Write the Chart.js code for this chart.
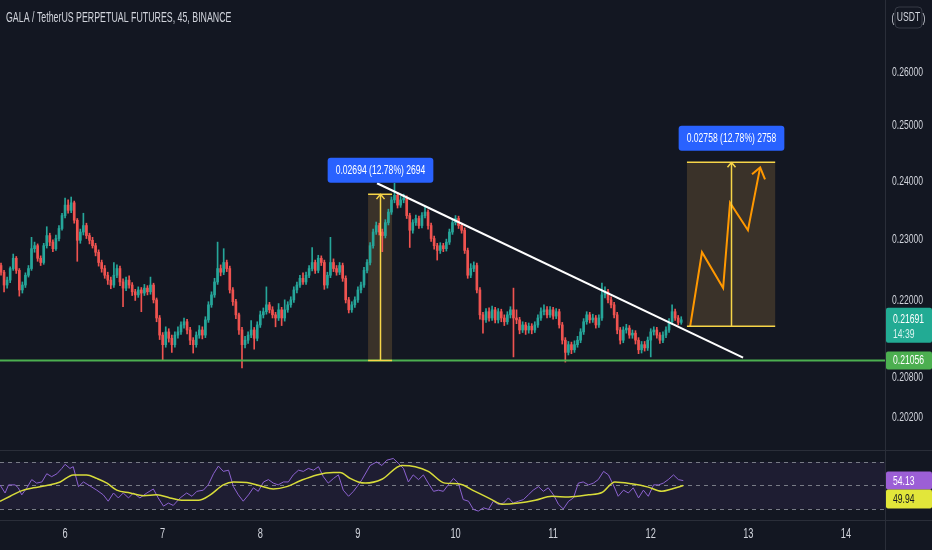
<!DOCTYPE html>
<html>
<head>
<meta charset="utf-8">
<title>GALA / TetherUS PERPETUAL FUTURES, 45, BINANCE</title>
<script src="https://cdn.jsdelivr.net/npm/chart.js@4.4.1/dist/chart.umd.min.js"></script>
<style>
  html, body { margin: 0; padding: 0; background: #131722; }
  #wrap { width: 932px; height: 550px; }
</style>
</head>
<body>
<div id="wrap"><canvas id="chart" width="932" height="550"></canvas></div>
<script>
// hours are counted from day 5, 00:00 ; one bar = 45 minutes
const title = 'GALA / TetherUS PERPETUAL FUTURES, 45, BINANCE';
const tickDays = [6, 7, 8, 9, 10, 11, 12, 13, 14];
const priceTicks = [0.202, 0.208, 0.22, 0.23, 0.24, 0.25, 0.26];
const firstBarHour = 7.5;
const barHours = 0.75;
const firstOpen = 0.2250;

const closes = [
  .2257,.2246,.2225,.2233,.2252,.2269,.2249,.2217,.2225,.2241,
  .2252,.2285,.2290,.2269,.2262,.2290,.2307,.2296,.2285,.2302,
  .2319,.2341,.2359,.2350,.2363,.2333,.2299,.2313,.2324,.2307,
  .2299,.2290,.2279,.2262,.2252,.2241,.2233,.2225,.2241,.2252,
  .2230,.2220,.2233,.2225,.2214,.2209,.2217,.2212,.2220,.2214,
  .2225,.2201,.2172,.2145,.2130,.2150,.2140,.2130,.2145,.2150,
  .2161,.2166,.2153,.2137,.2130,.2145,.2153,.2145,.2169,.2193,
  .2209,.2230,.2252,.2246,.2262,.2252,.2217,.2198,.2177,.2153,
  .2130,.2137,.2145,.2153,.2140,.2161,.2177,.2182,.2193,.2185,
  .2177,.2172,.2185,.2172,.2185,.2193,.2201,.2217,.2225,.2236,
  .2230,.2241,.2252,.2262,.2249,.2269,.2262,.2225,.2241,.2262,
  .2252,.2246,.2257,.2236,.2201,.2185,.2193,.2201,.2217,.2225,
  .2249,.2262,.2290,.2313,.2324,.2313,.2307,.2329,.2347,.2368,
  .2376,.2359,.2368,.2371,.2341,.2316,.2329,.2336,.2324,.2341,
  .2347,.2324,.2302,.2290,.2282,.2290,.2285,.2296,.2313,.2329,
  .2336,.2324,.2316,.2282,.2241,.2252,.2257,.2217,.2177,.2169,
  .2182,.2172,.2185,.2169,.2182,.2172,.2166,.2177,.2185,.2172,
  .2169,.2153,.2161,.2153,.2159,.2153,.2161,.2172,.2182,.2185,
  .2177,.2185,.2175,.2182,.2161,.2137,.2118,.2130,.2122,.2130,
  .2137,.2150,.2166,.2177,.2169,.2172,.2161,.2172,.2209,.2214,
  .2201,.2193,.2177,.2153,.2137,.2153,.2156,.2145,.2148,.2137,
  .2122,.2130,.2125,.2137,.2150,.2153,.2145,.2137,.2145,.2153,
  .2166,.2182,.2172,.2165,.21691
];
const highs = [
  .2262,.2261,.2249,.2238,.2255,.2276,.2272,.2252,.2230,.2245,
  .2257,.2304,.2296,.2293,.2273,.2294,.2322,.2311,.2300,.2308,
  .2324,.2345,.2371,.2368,.2373,.2366,.2336,.2318,.2345,.2328,
  .2311,.2304,.2294,.2283,.2266,.2257,.2246,.2238,.2262,.2258,
  .2256,.2235,.2238,.2240,.2229,.2218,.2222,.2221,.2226,.2224,
  .2238,.2228,.2204,.2176,.2149,.2158,.2155,.2145,.2150,.2158,
  .2166,.2172,.2170,.2157,.2141,.2150,.2160,.2158,.2174,.2198,
  .2214,.2236,.2296,.2258,.2285,.2266,.2256,.2221,.2202,.2180,
  .2157,.2143,.2150,.2168,.2157,.2166,.2183,.2188,.2222,.2197,
  .2190,.2181,.2195,.2189,.2201,.2198,.2206,.2222,.2230,.2241,
  .2245,.2246,.2257,.2287,.2266,.2274,.2273,.2266,.2246,.2304,
  .2268,.2257,.2262,.2261,.2240,.2205,.2198,.2206,.2222,.2230,
  .2254,.2267,.2295,.2318,.2330,.2328,.2318,.2334,.2352,.2373,
  .2397,.2381,.2374,.2378,.2375,.2345,.2334,.2342,.2340,.2346,
  .2355,.2351,.2328,.2306,.2294,.2295,.2294,.2301,.2318,.2334,
  .2341,.2340,.2328,.2320,.2286,.2260,.2263,.2261,.2221,.2181,
  .2187,.2188,.2191,.2189,.2187,.2186,.2177,.2182,.2190,.2220,
  .2185,.2173,.2166,.2165,.2164,.2163,.2166,.2177,.2188,.2193,
  .2190,.2190,.2189,.2187,.2186,.2165,.2141,.2135,.2134,.2136,
  .2143,.2155,.2171,.2182,.2181,.2178,.2176,.2177,.2228,.2222,
  .2218,.2206,.2197,.2181,.2157,.2158,.2162,.2160,.2153,.2152,
  .2141,.2135,.2135,.2142,.2155,.2158,.2157,.2149,.2150,.2158,
  .2171,.2193,.2186,.2176,.2174
];
const lows = [
  .2245,.2241,.2214,.2220,.2229,.2249,.2244,.2207,.2212,.2221,
  .2238,.2249,.2279,.2264,.2257,.2259,.2286,.2290,.2280,.2282,
  .2298,.2316,.2337,.2345,.2346,.2328,.2264,.2294,.2308,.2302,
  .2293,.2286,.2273,.2256,.2246,.2236,.2226,.2219,.2221,.2237,
  .2224,.2190,.2216,.2220,.2208,.2200,.2205,.2182,.2208,.2209,
  .2210,.2196,.2166,.2138,.2106,.2126,.2134,.2118,.2126,.2140,
  .2146,.2156,.2147,.2130,.2117,.2126,.2140,.2139,.2141,.2165,
  .2189,.2205,.2226,.2240,.2242,.2247,.2212,.2192,.2171,.2146,
  .2094,.2125,.2132,.2141,.2123,.2136,.2157,.2172,.2178,.2180,
  .2172,.2158,.2168,.2160,.2167,.2181,.2189,.2197,.2212,.2221,
  .2226,.2226,.2237,.2248,.2244,.2245,.2257,.2218,.2220,.2237,
  .2247,.2241,.2242,.2231,.2196,.2180,.2181,.2189,.2197,.2212,
  .2221,.2245,.2258,.2286,.2309,.2308,.2280,.2303,.2325,.2343,
  .2363,.2354,.2355,.2363,.2336,.2287,.2311,.2324,.2319,.2320,
  .2337,.2318,.2297,.2284,.2266,.2277,.2280,.2281,.2292,.2309,
  .2325,.2319,.2311,.2277,.2236,.2237,.2247,.2212,.2170,.2148,
  .2165,.2167,.2168,.2164,.2164,.2166,.2160,.2162,.2172,.2111,
  .2163,.2147,.2149,.2146,.2148,.2147,.2149,.2157,.2168,.2177,
  .2172,.2173,.2170,.2171,.2156,.2131,.2103,.2114,.2116,.2118,
  .2126,.2133,.2146,.2162,.2164,.2165,.2156,.2157,.2168,.2204,
  .2196,.2188,.2172,.2147,.2131,.2133,.2148,.2140,.2140,.2131,
  .2116,.2117,.2120,.2121,.2111,.2145,.2140,.2132,.2133,.2141,
  .2149,.2162,.2168,.2161,.2162
];

const rsiHours = [
  8.0, 9.25, 10.1, 11.7, 12.5, 13.35, 14.6, 15.8, 17.0, 18.3,
  19.5, 20.7, 22.0, 23.2, 24.0, 25.2, 26.0, 27.3, 28.5, 29.7,
  31.8, 33.4, 34.6, 35.9, 37.1, 38.3, 39.6, 40.8, 42.4, 44.1,
  45.7, 46.9, 48.2, 49.4, 50.6, 52.3, 53.9, 55.2, 56.4, 58.0,
  59.2, 60.5, 61.7, 62.9, 64.2, 65.4, 66.6, 67.8, 69.1, 70.3,
  71.5, 72.8, 74.0, 75.2, 76.4, 77.7, 78.9, 80.1, 81.4, 82.6,
  83.8, 85.1, 86.3, 87.5, 88.7, 90.0, 91.2, 92.4, 93.7, 94.9,
  96.0, 97.0, 99.0, 100.6, 101.9, 103.1, 104.7, 106.0, 107.2, 108.4,
  109.6, 110.9, 112.1, 113.3, 114.6, 115.8, 117.0, 118.2, 119.5, 120.7,
  121.9, 123.2, 124.4, 125.6, 126.9, 128.1, 129.3, 130.5, 131.8, 133.0,
  134.2, 135.5, 136.7, 137.9, 139.1, 140.4, 141.6, 142.8, 144.1, 145.3,
  146.5, 147.8, 149.0, 150.2, 151.4, 152.7, 153.9, 155.1, 156.4, 157.6,
  158.8, 160.0, 161.3, 162.5, 163.7, 165.0, 166.2, 167.4, 168.7, 169.9,
  171.1, 172.3, 173.6, 174.8, 176.0
];
const rsiValues = [
  50.5, 43.6, 50.5, 50.5, 48, 42, 48, 55, 52, 53,
  60, 57.5, 60, 64.5, 68, 64.5, 66, 49, 53, 50.5,
  46, 42, 36.6, 43.6, 39.4, 43.6, 39.4, 43.6, 39.4, 43.6,
  47, 39.4, 32.4, 35, 33, 39.4, 43.6, 40.8, 45, 46,
  50.5, 60, 66.5, 62, 63, 49, 42, 36.6, 42, 48,
  45, 53, 55, 52, 50.5, 53, 53, 59, 63, 62,
  64.5, 63, 66, 57.5, 52, 56, 59, 46, 40.8, 45,
  50, 55, 67, 70, 67, 71.5, 73, 68.7, 64.5, 53,
  59, 55, 59, 52, 45, 46, 45, 50.5, 56, 52,
  38, 36.6, 29.6, 28.2, 31, 29.6, 36.6, 34, 35, 39.4,
  35, 36.6, 38, 42, 46, 49, 45, 48, 42, 34,
  30, 36.6, 39.4, 52, 53, 50.5, 52, 55, 62, 59,
  50.5, 40.8, 46, 43.6, 48, 39.4, 46, 40.8, 50.5, 50.5,
  52, 55, 59, 55, 54.13
];
const maHours = [
  8.0, 10.5, 12.9, 16.2, 19.5, 22.8, 26.0, 29.3, 31.8, 34.3,
  36.7, 40.0, 43.3, 46.5, 49.8, 53.1, 56.8, 59.7, 62.9, 65.4,
  68.7, 71.9, 75.2, 78.5, 81.8, 85.9, 90.0, 91.6, 94.1, 96.1,
  97.8, 101.9, 106.8, 110.1, 113.3, 117.4, 120.7, 124.8, 128.9, 131.4,
  135.5, 139.6, 143.7, 147.8, 152.7, 156.0, 159.2, 163.3, 167.4, 170.7,
  173.2, 176.0
];
const maValues = [
  36.6, 40.8, 45, 48, 50, 53, 59, 59, 56, 52,
  46, 43.6, 41.3, 42, 39.4, 37.4, 37.4, 42, 50.5, 53,
  52.5, 49.7, 47, 49, 54, 59, 61, 61, 56, 53,
  52, 55.3, 67, 66, 62, 52, 51.4, 45, 38, 34,
  35, 37.4, 40.8, 40.2, 42, 44, 53, 51.4, 48.6, 45,
  47, 49.94
];
const rsiLevels = [70, 50, 30];

// drawings (hour, price)
const supportPrice = 0.21056;
const trendHours = [100.7, 190.7];
const trendPrices = [0.2397, 0.2110];
const measures = [
  { from: 98.5, to: 104.4, low: 0.21056, high: 0.2378, text: '0.02694 (12.78%) 2694' },
  { from: 176.9, to: 198.6, low: 0.2159, high: 0.2434, text: '0.02758 (12.78%) 2758' }
];
const pathHours = [177.7, 180.6, 185.8, 187.5, 191.9, 194.9];
const pathPrices = [0.2159, 0.2279, 0.2220, 0.2363, 0.2316, 0.2425];
const headHours = [192.9, 194.9, 196.1];
const headPrices = [0.2413, 0.2425, 0.2404];

const lastTime = '14:39';

const FONT = '"Liberation Sans", Arial, sans-serif';
const SQUEEZE = 0.66;   // the screenshot text is horizontally condensed
const UP = '#26a69a', DOWN = '#ef5350';

const opens = closes.map((c, i) => i === 0 ? firstOpen : closes[i - 1]);
const barHour = i => firstBarHour + i * barHours;
const colors = closes.map((c, i) => c >= opens[i] ? UP : DOWN);

function narrowText(ctx, text, x, y, color, align, size, squeeze) {
  ctx.save();
  ctx.font = (size || 13) + 'px ' + FONT;
  ctx.fillStyle = color;
  ctx.textAlign = align || 'left';
  ctx.textBaseline = 'middle';
  ctx.translate(x, y);
  ctx.scale(squeeze || SQUEEZE, 1);
  ctx.fillText(text, 0, 0);
  ctx.restore();
}

function narrowWidth(ctx, text, size) {
  ctx.save();
  ctx.font = (size || 13) + 'px ' + FONT;
  const w = ctx.measureText(text).width * SQUEEZE;
  ctx.restore();
  return w;
}

function labelBox(ctx, x, y, w, h, fill, lines) {
  ctx.fillStyle = fill;
  ctx.beginPath();
  ctx.roundRect(x, y, w, h, 2);
  ctx.fill();
  lines.forEach(l => narrowText(ctx, l.text, x + 7, l.y, l.color));
}

const overlay = {
  id: 'overlay',
  beforeDraw(chart) {
    const ctx = chart.ctx;
    ctx.save();
    ctx.fillStyle = '#131722';
    ctx.fillRect(0, 0, chart.width, chart.height);
    ctx.restore();
  },
  beforeDatasetsDraw(chart) {
    const { ctx, chartArea: a, scales: { x, y, yr } } = chart;
    ctx.save();
    const t = yr.getPixelForValue(70), b = yr.getPixelForValue(30);
    ctx.fillStyle = 'rgba(126, 87, 194, 0.1)';
    ctx.fillRect(a.left, t, a.right - a.left, b - t);
    ctx.strokeStyle = '#787b86';
    ctx.lineWidth = 1;
    ctx.setLineDash([4, 4]);
    rsiLevels.forEach(v => {
      const py = Math.round(yr.getPixelForValue(v)) + 0.5;
      ctx.beginPath(); ctx.moveTo(a.left, py); ctx.lineTo(a.right, py); ctx.stroke();
    });
    ctx.setLineDash([]);
    measures.forEach(m => {
      const x1 = x.getPixelForValue(m.from), x2 = x.getPixelForValue(m.to);
      const y1 = y.getPixelForValue(m.high), y2 = y.getPixelForValue(m.low);
      ctx.fillStyle = 'rgba(255, 183, 77, 0.17)';
      ctx.fillRect(x1, y1, x2 - x1, y2 - y1);
    });
    ctx.restore();
  },
  afterDatasetsDraw(chart) {
    const { ctx, chartArea: a, scales: { x, y } } = chart;
    ctx.save();
    // support line
    const sy = y.getPixelForValue(supportPrice);
    ctx.strokeStyle = '#4caf50';
    ctx.lineWidth = 2;
    ctx.beginPath(); ctx.moveTo(a.left, sy); ctx.lineTo(a.right, sy); ctx.stroke();

    measures.forEach(m => {
      const x1 = x.getPixelForValue(m.from), x2 = x.getPixelForValue(m.to);
      const y1 = y.getPixelForValue(m.high), y2 = y.getPixelForValue(m.low);
      const cx = Math.round((x1 + x2) / 2) + 0.5;
      ctx.strokeStyle = '#f7d548';
      ctx.lineWidth = 1.5;
      ctx.beginPath();
      ctx.moveTo(x1, y1); ctx.lineTo(x2, y1);
      ctx.moveTo(x1, y2); ctx.lineTo(x2, y2);
      ctx.moveTo(cx, y2); ctx.lineTo(cx, y1);
      ctx.moveTo(cx - 4, y1 + 5); ctx.lineTo(cx, y1); ctx.lineTo(cx + 4, y1 + 5);
      ctx.stroke();
      // blue label
      const w = narrowWidth(ctx, m.text) + 16, h = 25;
      const lx = cx - w / 2, ly = y1 - 24 - h / 2;
      ctx.fillStyle = '#2962ff';
      ctx.beginPath(); ctx.roundRect(lx, ly, w, h, 3); ctx.fill();
      narrowText(ctx, m.text, cx, ly + h / 2 + 0.5, '#ffffff', 'center');
    });
    ctx.restore();
  },
  afterDraw(chart) {
    const { ctx, chartArea: a, scales: { x, y, yr } } = chart;
    ctx.save();
    // pane separators
    ctx.strokeStyle = '#2a2e39';
    ctx.lineWidth = 1;
    const paneBottom = Math.round(y.bottom) + 0.5;
    const axisTop = Math.round(a.bottom) + 0.5;
    ctx.beginPath();
    ctx.moveTo(0, paneBottom); ctx.lineTo(chart.width, paneBottom);
    ctx.moveTo(0, axisTop); ctx.lineTo(chart.width, axisTop);
    ctx.moveTo(Math.round(a.right) + 0.5, 0); ctx.lineTo(Math.round(a.right) + 0.5, chart.height);
    ctx.stroke();

    // tick labels from the library's scales
    y.ticks.forEach(t => {
      narrowText(ctx, t.value.toFixed(5), a.right + 7, y.getPixelForValue(t.value), '#d1d4dc');
    });
    x.ticks.forEach(t => {
      narrowText(ctx, String(5 + t.value / 24), x.getPixelForValue(t.value), a.bottom + 14, '#d1d4dc', 'center', 14);
    });

    // title
    narrowText(ctx, title, 6, 18, '#d1d4dc', 'left', 14, 0.63);

    // currency button
    const bx = a.right + 10;
    ctx.strokeStyle = '#363a45';
    ctx.fillStyle = '#131722';
    ctx.beginPath(); ctx.roundRect(bx, 7, 27, 21, 4); ctx.fill(); ctx.stroke();
    narrowText(ctx, 'USDT', bx + 13.5, 17.5, '#d1d4dc', 'center');
    narrowText(ctx, '(', bx - 2, 18, '#d1d4dc', 'center');
    narrowText(ctx, ')', bx + 29, 18, '#d1d4dc', 'center');

    // last price + support price labels
    const lx = a.right + 1, lw = chart.width - lx;
    const last = closes[closes.length - 1];
    const py = y.getPixelForValue(last);
    labelBox(ctx, lx, py - 12, lw, 35, '#22ab94', [
      { text: last.toFixed(5), y: py, color: '#ffffff' },
      { text: lastTime, y: py + 15, color: '#d8f3ef' }
    ]);
    const gy = y.getPixelForValue(supportPrice);
    labelBox(ctx, lx, gy - 9, lw, 18, '#4caf50', [
      { text: supportPrice.toFixed(5), y: gy + 0.5, color: '#ffffff' }
    ]);
    // rsi labels
    const rsiLast = rsiValues[rsiValues.length - 1];
    const ry = yr.getPixelForValue(rsiLast);
    labelBox(ctx, lx, ry - 9, lw, 18, '#9c5fd6', [
      { text: rsiLast.toFixed(2), y: ry + 0.5, color: '#ffffff' }
    ]);
    const maLast = maValues[maValues.length - 1];
    labelBox(ctx, lx, ry + 9, lw, 19, '#e2e63a', [
      { text: maLast.toFixed(2), y: ry + 19, color: '#131722' }
    ]);
    ctx.restore();
  }
};

Chart.defaults.font.family = FONT;
Chart.defaults.color = '#b2b5be';

new Chart(document.getElementById('chart'), {
  type: 'bar',
  data: {
    datasets: [
      {
        label: 'zigzag',
        type: 'line',
        data: pathHours.map((h, i) => ({ x: h, y: pathPrices[i] })),
        yAxisID: 'y',
        borderColor: '#ff9800',
        borderWidth: 2,
        pointRadius: 0,
        order: 0
      },
      {
        label: 'arrow',
        type: 'line',
        data: headHours.map((h, i) => ({ x: h, y: headPrices[i] })),
        yAxisID: 'y',
        borderColor: '#ff9800',
        borderWidth: 2,
        pointRadius: 0,
        order: 0
      },
      {
        label: 'trend',
        type: 'line',
        data: trendHours.map((h, i) => ({ x: h, y: trendPrices[i] })),
        yAxisID: 'y',
        borderColor: '#ffffff',
        borderWidth: 2,
        pointRadius: 0,
        order: 1
      },
      {
        label: 'RSI',
        type: 'line',
        data: rsiHours.map((h, i) => ({ x: h, y: rsiValues[i] })),
        yAxisID: 'yr',
        borderColor: '#8c62d0',
        borderWidth: 1,
        pointRadius: 0,
        order: 3
      },
      {
        label: 'RSI MA',
        type: 'line',
        data: maHours.map((h, i) => ({ x: h, y: maValues[i] })),
        yAxisID: 'yr',
        borderColor: '#d8dc3a',
        borderWidth: 1.5,
        pointRadius: 0,
        cubicInterpolationMode: 'monotone',
        order: 2
      },
      {
        label: 'wicks',
        data: closes.map((c, i) => ({ x: barHour(i), y: [lows[i], highs[i]] })),
        yAxisID: 'y',
        backgroundColor: colors,
        barThickness: 1,
        grouped: false,
        order: 6
      },
      {
        label: 'bodies',
        data: closes.map((c, i) => ({ x: barHour(i), y: [opens[i], c] })),
        yAxisID: 'y',
        backgroundColor: colors,
        barThickness: 2,
        minBarLength: 1,
        grouped: false,
        order: 5
      }
    ]
  },
  options: {
    responsive: false,
    animation: false,
    events: [],
    layout: { padding: 0 },
    plugins: { legend: { display: false }, tooltip: { enabled: false } },
    scales: {
      x: {
        type: 'linear',
        position: 'bottom',
        min: 8.0,
        max: 225.6,
        bounds: 'data',
        offset: false,
        grid: { display: false, drawTicks: false, offset: false },
        border: { display: false },
        ticks: { display: false },
        afterBuildTicks: s => { s.ticks = tickDays.map(d => ({ value: (d - 5) * 24 })); },
        afterFit: s => { s.height = 30; }
      },
      y: {
        type: 'logarithmic',
        position: 'right',
        stack: 'panes',
        stackWeight: 450,
        min: 0.1972,
        max: 0.2741,
        bounds: 'data',
        grid: { display: false, drawTicks: false },
        border: { display: false },
        ticks: { display: false },
        afterBuildTicks: s => { s.ticks = priceTicks.map(v => ({ value: v })); },
        afterFit: s => { s.width = 47; }
      },
      yr: {
        type: 'linear',
        position: 'right',
        stack: 'panes',
        stackWeight: 70,
        min: 20.6,
        max: 80.2,
        bounds: 'data',
        grid: { display: false, drawTicks: false },
        border: { display: false },
        ticks: { display: false },
        afterFit: s => { s.width = 47; }
      }
    }
  },
  plugins: [overlay]
});
</script>
</body>
</html>
